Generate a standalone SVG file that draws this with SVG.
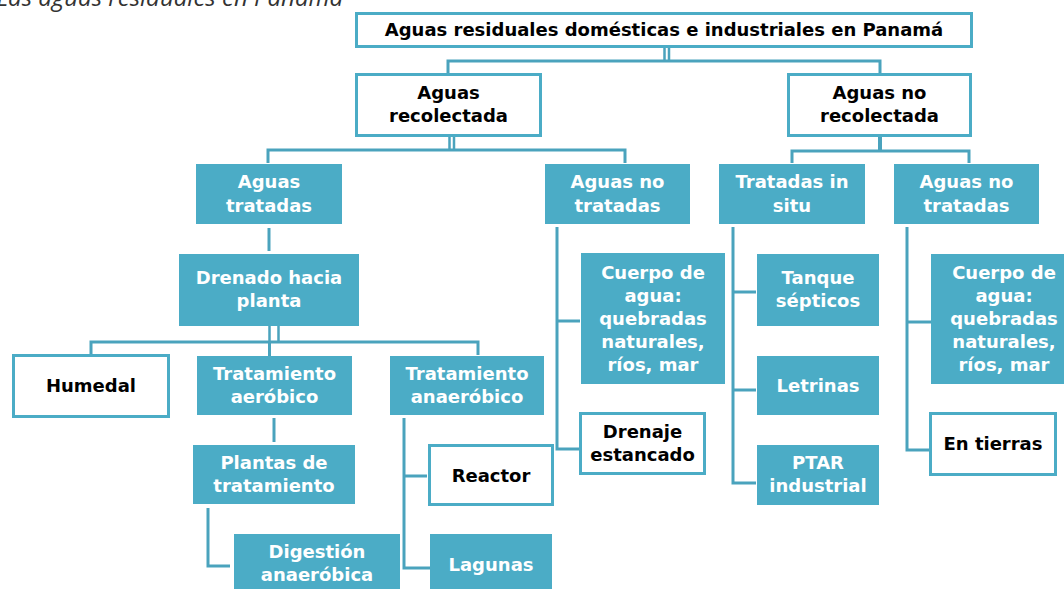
<svg xmlns="http://www.w3.org/2000/svg" width="1064" height="589" viewBox="0 0 1064 589">
<style>
.f{fill:#4BACC6}
.w{fill:#fff;stroke:#4BACC6;stroke-width:3}
.t{font-family:"DejaVu Sans",sans-serif;font-weight:700;font-size:18px;text-anchor:middle}
.tw{fill:#fff}
.tb{fill:#000}
.c{fill:none;stroke:#4AA3BD;stroke-width:3}
.c2{fill:none;stroke:#4AA3BD;stroke-width:2.5}
.cap{font-family:"Open Sans","Noto Sans",sans-serif;font-style:italic;font-size:24px;fill:#333;text-anchor:end}
</style>
<rect width="1064" height="589" fill="#fff"/>
<text class="cap" x="343" y="6">Las aguas residuales en Panamá</text>
<g id="connectors">
  <path class="c2" d="M664.5,47V61M669,47V61"/>
  <path class="c" d="M448,73V61H880V73"/>
  <path class="c2" d="M449.5,137V150M454,137V150"/>
  <path class="c" d="M268,163V150H625V163"/>
  <path class="c" d="M792,163V151H969V163"/>
  <path class="c" d="M880,137V151" style="stroke-width:4"/>
  <path class="c" d="M269,228V251"/>
  <path class="c2" d="M269.5,326V342M278.5,326V342"/>
  <path class="c" d="M91,354V342H478V355M269.5,342V356"/>
  <path class="c" d="M274,418V442"/>
  <path class="c" d="M208,508V566H230"/>
  <path class="c" d="M404,418V568H430M404,476H427"/>
  <path class="c" d="M557,227V449H579M557,321H580"/>
  <path class="c" d="M733,227V483H756M733,292H756M733,390H756"/>
  <path class="c" d="M907,227V450H929M907,322H931"/>
</g>
<g id="n-top">
  <rect class="w" x="356.5" y="13.5" width="615" height="33"/>
  <text class="t tb" x="664" y="36">Aguas residuales domésticas e industriales en Panamá</text>
</g>
<g id="n-recolectada">
  <rect class="w" x="356.5" y="74.5" width="184" height="61"/>
  <text class="t tb" x="448.5" y="99">Aguas<tspan x="448.5" dy="23">recolectada</tspan></text>
</g>
<g id="n-norecolectada">
  <rect class="w" x="788.5" y="74.5" width="182" height="61"/>
  <text class="t tb" x="879.5" y="99">Aguas no<tspan x="879.5" dy="23">recolectada</tspan></text>
</g>
<g id="n-tratadas">
  <rect class="f" x="196" y="164" width="146" height="60"/>
  <text class="t tw" x="269" y="188">Aguas<tspan x="269" dy="24">tratadas</tspan></text>
</g>
<g id="n-notratadas1">
  <rect class="f" x="545" y="164" width="145" height="60"/>
  <text class="t tw" x="617.5" y="188">Aguas no<tspan x="617.5" dy="24">tratadas</tspan></text>
</g>
<g id="n-insitu">
  <rect class="f" x="719" y="164" width="146" height="60"/>
  <text class="t tw" x="792" y="188">Tratadas in<tspan x="792" dy="24">situ</tspan></text>
</g>
<g id="n-notratadas2">
  <rect class="f" x="894" y="164" width="145" height="60"/>
  <text class="t tw" x="966.5" y="188">Aguas no<tspan x="966.5" dy="24">tratadas</tspan></text>
</g>
<g id="n-drenado">
  <rect class="f" x="179" y="254" width="180" height="72"/>
  <text class="t tw" x="269" y="284">Drenado hacia<tspan x="269" dy="23">planta</tspan></text>
</g>
<g id="n-humedal">
  <rect class="w" x="13.5" y="355.5" width="155" height="61"/>
  <text class="t tb" x="91" y="392">Humedal</text>
</g>
<g id="n-aerobico">
  <rect class="f" x="197" y="356" width="155" height="59"/>
  <text class="t tw" x="274.5" y="380">Tratamiento<tspan x="274.5" dy="23">aeróbico</tspan></text>
</g>
<g id="n-anaerobico">
  <rect class="f" x="390" y="356" width="154" height="59"/>
  <text class="t tw" x="467" y="380">Tratamiento<tspan x="467" dy="23">anaeróbico</tspan></text>
</g>
<g id="n-plantas">
  <rect class="f" x="193" y="445" width="162" height="59"/>
  <text class="t tw" x="274" y="469">Plantas de<tspan x="274" dy="23">tratamiento</tspan></text>
</g>
<g id="n-digestion">
  <rect class="f" x="234" y="534" width="166" height="60"/>
  <text class="t tw" x="317" y="558">Digestión<tspan x="317" dy="23">anaeróbica</tspan></text>
</g>
<g id="n-reactor">
  <rect class="w" x="429.5" y="445.5" width="123" height="59"/>
  <text class="t tb" x="491" y="482">Reactor</text>
</g>
<g id="n-lagunas">
  <rect class="f" x="430" y="534" width="122" height="60"/>
  <text class="t tw" x="491" y="571">Lagunas</text>
</g>
<g id="n-cuerpo1">
  <rect class="f" x="581" y="253" width="144" height="131"/>
  <text class="t tw" x="653" y="279">Cuerpo de<tspan x="653" dy="23">agua:</tspan><tspan x="653" dy="23">quebradas</tspan><tspan x="653" dy="23">naturales,</tspan><tspan x="653" dy="23">ríos, mar</tspan></text>
</g>
<g id="n-estancado">
  <rect class="w" x="580.5" y="413.5" width="124" height="60"/>
  <text class="t tb" x="642.5" y="438">Drenaje<tspan x="642.5" dy="23">estancado</tspan></text>
</g>
<g id="n-tanque">
  <rect class="f" x="757" y="254" width="122" height="72"/>
  <text class="t tw" x="818" y="284">Tanque<tspan x="818" dy="23">sépticos</tspan></text>
</g>
<g id="n-letrinas">
  <rect class="f" x="757" y="356" width="122" height="59"/>
  <text class="t tw" x="818" y="392">Letrinas</text>
</g>
<g id="n-ptar">
  <rect class="f" x="757" y="445" width="122" height="60"/>
  <text class="t tw" x="818" y="469">PTAR<tspan x="818" dy="23">industrial</tspan></text>
</g>
<g id="n-cuerpo2">
  <rect class="f" x="931" y="254" width="146" height="130"/>
  <text class="t tw" x="1004" y="279">Cuerpo de<tspan x="1004" dy="23">agua:</tspan><tspan x="1004" dy="23">quebradas</tspan><tspan x="1004" dy="23">naturales,</tspan><tspan x="1004" dy="23">ríos, mar</tspan></text>
</g>
<g id="n-tierras">
  <rect class="w" x="930.5" y="413.5" width="125" height="61"/>
  <text class="t tb" x="993" y="450">En tierras</text>
</g>
</svg>
